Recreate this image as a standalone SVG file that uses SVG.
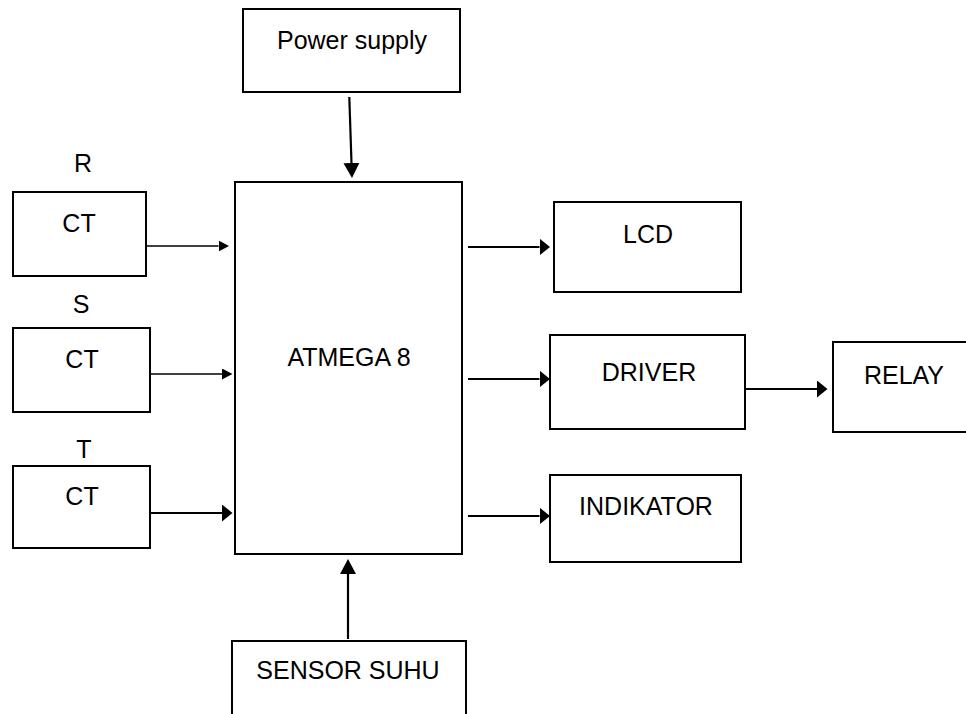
<svg xmlns="http://www.w3.org/2000/svg" width="966" height="714" viewBox="0 0 966 714">
<style>
  .box { fill: #fff; stroke: #000; stroke-width: 2; }
  .lbl { font-family: "Liberation Sans", Arial, sans-serif; font-size: 25px; fill: #000; text-anchor: middle; }
  .wire { stroke: #000; stroke-width: 2.2; fill: none; }
  .thin { stroke: #000; stroke-width: 1.4; fill: none; }
</style>
<defs>
  <marker id="ah" markerUnits="userSpaceOnUse" markerWidth="11" markerHeight="18" refX="0" refY="8.5" orient="auto">
    <path d="M0,0 L10.5,8.5 L0,17 Z" fill="#000"/>
  </marker>
  <marker id="ahv" markerUnits="userSpaceOnUse" markerWidth="16" markerHeight="17" refX="0" refY="8" orient="auto">
    <path d="M0,0 L15,8 L0,16 Z" fill="#000"/>
  </marker>
  <marker id="ahs" markerUnits="userSpaceOnUse" markerWidth="11" markerHeight="12" refX="0" refY="5.5" orient="auto">
    <path d="M0,0 L10.5,5.5 L0,11 Z" fill="#000"/>
  </marker>
</defs>
<rect width="966" height="714" fill="#fff"/>

<g id="power">
  <rect class="box" x="243" y="9" width="217" height="83"/>
  <text class="lbl" x="352" y="49">Power supply</text>
</g>
<g id="atmega">
  <rect class="box" x="235" y="182" width="227" height="372"/>
  <text class="lbl" x="349" y="366">ATMEGA 8</text>
</g>
<g id="ct-r">
  <text class="lbl" x="83" y="172">R</text>
  <rect class="box" x="13" y="192" width="133" height="84"/>
  <text class="lbl" x="79" y="232">CT</text>
</g>
<g id="ct-s">
  <text class="lbl" x="81" y="313">S</text>
  <rect class="box" x="13" y="328" width="137" height="84"/>
  <text class="lbl" x="82" y="368">CT</text>
</g>
<g id="ct-t">
  <text class="lbl" x="84" y="458">T</text>
  <rect class="box" x="13" y="466" width="137" height="82"/>
  <text class="lbl" x="82" y="505">CT</text>
</g>
<g id="lcd">
  <rect class="box" x="554" y="202" width="187" height="90"/>
  <text class="lbl" x="648" y="243">LCD</text>
</g>
<g id="driver">
  <rect class="box" x="550" y="335" width="195" height="94"/>
  <text class="lbl" x="649" y="381">DRIVER</text>
</g>
<g id="relay">
  <rect class="box" x="833" y="342" width="145" height="90"/>
  <text class="lbl" x="904" y="384">RELAY</text>
</g>
<g id="indikator">
  <rect class="box" x="550" y="475" width="191" height="87"/>
  <text class="lbl" x="646" y="515">INDIKATOR</text>
</g>
<g id="sensor">
  <rect class="box" x="232" y="641" width="234" height="90"/>
  <text class="lbl" x="348" y="679">SENSOR SUHU</text>
</g>

<g id="connectors">
  <line class="wire" x1="349.3" y1="97" x2="351.5" y2="163" marker-end="url(#ahv)"/>
  <line class="thin" x1="146" y1="246" x2="218.5" y2="246" marker-end="url(#ahs)"/>
  <line class="thin" x1="150" y1="374" x2="222" y2="374" marker-end="url(#ahs)"/>
  <line class="wire" x1="150" y1="513" x2="222" y2="513" marker-end="url(#ah)"/>
  <line class="wire" x1="468" y1="247" x2="539.5" y2="247" marker-end="url(#ah)"/>
  <line class="wire" x1="468" y1="379" x2="539.5" y2="379" marker-end="url(#ah)"/>
  <line class="wire" x1="468" y1="516" x2="539.5" y2="516" marker-end="url(#ah)"/>
  <line class="wire" x1="745" y1="389" x2="817" y2="389" marker-end="url(#ah)"/>
  <line class="wire" x1="348" y1="639" x2="348" y2="574" marker-end="url(#ahv)"/>
</g>
</svg>
